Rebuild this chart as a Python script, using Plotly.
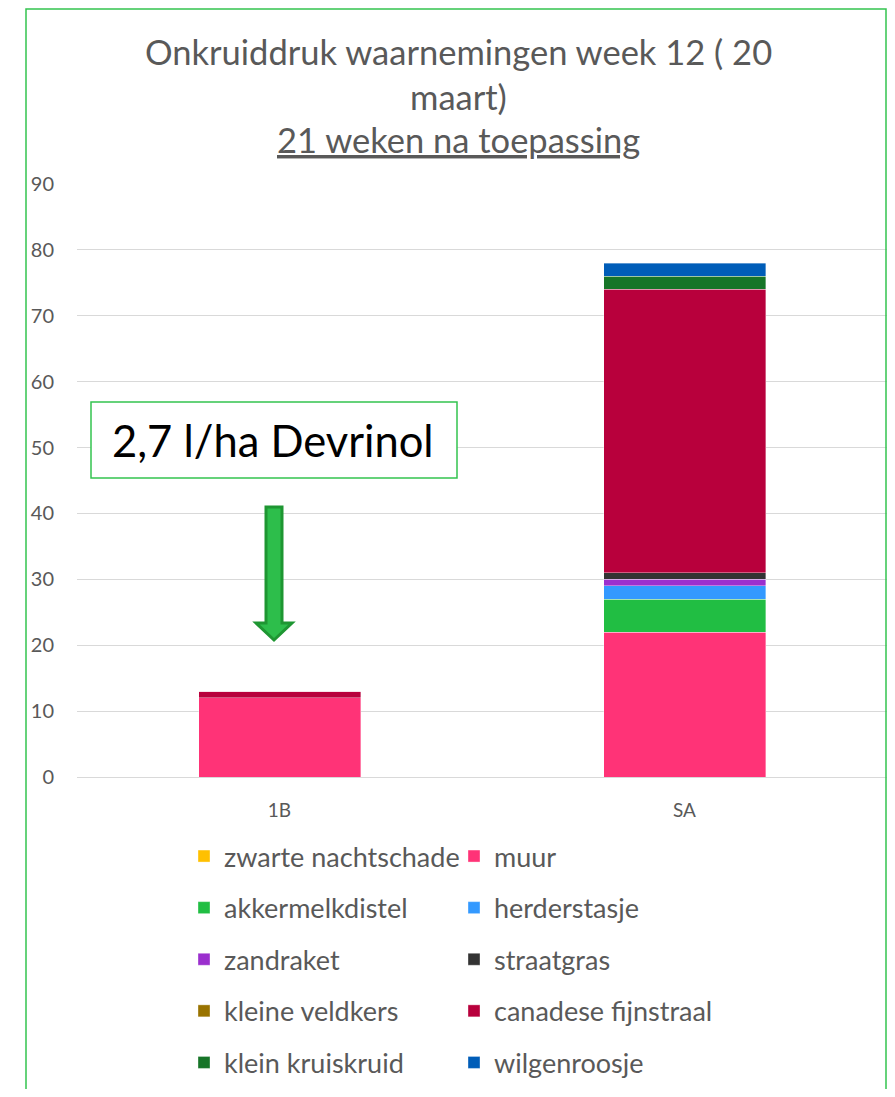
import plotly.graph_objects as go

# ---------------- data ----------------
categories = ["1B", "SA"]
series_names = [
    "zwarte nachtschade", "muur", "akkermelkdistel", "herderstasje",
    "zandraket", "straatgras", "kleine veldkers", "canadese fijnstraal",
    "klein kruiskruid", "wilgenroosje",
]
zwarte_nachtschade = [0, 0]
muur = [12, 22]
akkermelkdistel = [0, 5]
herderstasje = [0, 2]
zandraket = [0, 1]
straatgras = [0, 1]
kleine_veldkers = [0, 0]
canadese_fijnstraal = [1, 43]
klein_kruiskruid = [0, 2]
wilgenroosje = [0, 2]
series_values = [
    zwarte_nachtschade, muur, akkermelkdistel, herderstasje, zandraket,
    straatgras, kleine_veldkers, canadese_fijnstraal, klein_kruiskruid, wilgenroosje,
]
series_colors = [
    "#FFC000", "#FF3377", "#21BE43", "#3399FF", "#9B2FCE",
    "#333333", "#997300", "#B8003C", "#177528", "#005DB8",
]
y_ticks = [0, 10, 20, 30, 40, 50, 60, 70, 80, 90]
title_lines = ["Onkruiddruk waarnemingen week 12 ( 20", "maart)", "21 weken na toepassing"]
box_text = "2,7 l/ha Devrinol"

# ---------------- layout geometry ----------------
# page coordinates (target) are shifted by the page's default 8px body margin;
# keep the figure inside the viewport so no scrollbars appear
OFF = 8
W, H = 895 - 2 * OFF, 1097 - 2 * OFF
PL, PR, PT, PB = 77, 887, 184, 777          # plot area in page pixels
ML = PL - OFF
MR = (W + OFF) - PR
MT = PT - OFF
MB = (H + OFF) - PB
PW, PH = PR - PL, PB - PT


def px(x):
    return (x - PL) / PW


def py(y):
    return (PB - y) / PH


FONT = "Lato"
GREY = "#595959"

fig = go.Figure()
for i, (name, vals, col) in enumerate(zip(series_names, series_values, series_colors)):
    fig.add_trace(go.Bar(
        x=categories, y=vals, name=name,
        marker=dict(color=col, line=dict(color="rgba(255,255,255,0.6)", width=0.6)),
        legend="legend" if i % 2 == 0 else "legend2",
        legendgroup=name,
    ))

annotations = []
title_y = [52, 97, 140]
for i, (t, yy) in enumerate(zip(title_lines, title_y)):
    txt = f"<u>{t}</u>" if i == 2 else t
    annotations.append(dict(
        text=txt, xref="paper", yref="paper", x=px(458), y=py(yy),
        xanchor="center", yanchor="middle", showarrow=False,
        font=dict(family=FONT, size=34.5, color=GREY),
    ))
annotations.append(dict(
    text=box_text, xref="paper", yref="paper", x=px(273), y=py(440),
    xanchor="center", yanchor="middle", showarrow=False,
    font=dict(family=FONT, size=43.5, color="#000000"),
))

# arrow geometry (page pixels)
ax0, ax1 = 266, 282
hx0, hx1, tipx = 256, 292, 274
top, hb, tip = 507, 623, 640
arrow_path = (
    f"M{px(ax0)},{py(top)} L{px(ax1)},{py(top)} L{px(ax1)},{py(hb)} L{px(hx1)},{py(hb)} "
    f"L{px(tipx)},{py(tip)} L{px(hx0)},{py(hb)} L{px(ax0)},{py(hb)} Z"
)

shapes = [
    # outer chart border
    dict(type="rect", xref="paper", yref="paper", x0=px(26), x1=px(886), y0=py(9), y1=py(1115),
         line=dict(color="#33C34F", width=1.5), fillcolor="rgba(0,0,0,0)", layer="above"),
    # annotation box
    dict(type="rect", xref="paper", yref="paper", x0=px(91), x1=px(457), y0=py(402), y1=py(478),
         line=dict(color="#33C34F", width=1.5), fillcolor="#FFFFFF", layer="above"),
    # arrow
    dict(type="path", xref="paper", yref="paper", path=arrow_path,
         fillcolor="#2DBE4B", line=dict(color="#1E9632", width=3), layer="above"),
]

legend_common = dict(
    xanchor="left", yanchor="top", orientation="v", tracegroupgap=13.5,
    traceorder="grouped", font=dict(family=FONT, size=27, color=GREY),
    bgcolor="rgba(0,0,0,0)",
)

fig.update_layout(
    width=W, height=H,
    margin=dict(l=ML, r=MR, t=MT, b=MB),
    paper_bgcolor="white", plot_bgcolor="white",
    barmode="stack", bargap=0.6,
    font=dict(family=FONT, color=GREY),
    showlegend=True,
    legend=dict(x=px(184), y=py(832), **legend_common),
    legend2=dict(x=px(454), y=py(832), **legend_common),
    xaxis=dict(type="category", showgrid=False, showline=False, ticks="",
               tickfont=dict(family=FONT, size=19, color=GREY), ticklabelstandoff=20),
    yaxis=dict(range=[0, 90], tickvals=y_ticks, showgrid=True, gridcolor="#D9D9D9",
               gridwidth=1.3, zeroline=True, zerolinecolor="#D9D9D9", zerolinewidth=1.3,
               showline=False, ticks="", tickfont=dict(family=FONT, size=20, color=GREY),
               ticklabelstandoff=22),
    annotations=annotations,
    shapes=shapes,
)

fig.write_html("out.html")
